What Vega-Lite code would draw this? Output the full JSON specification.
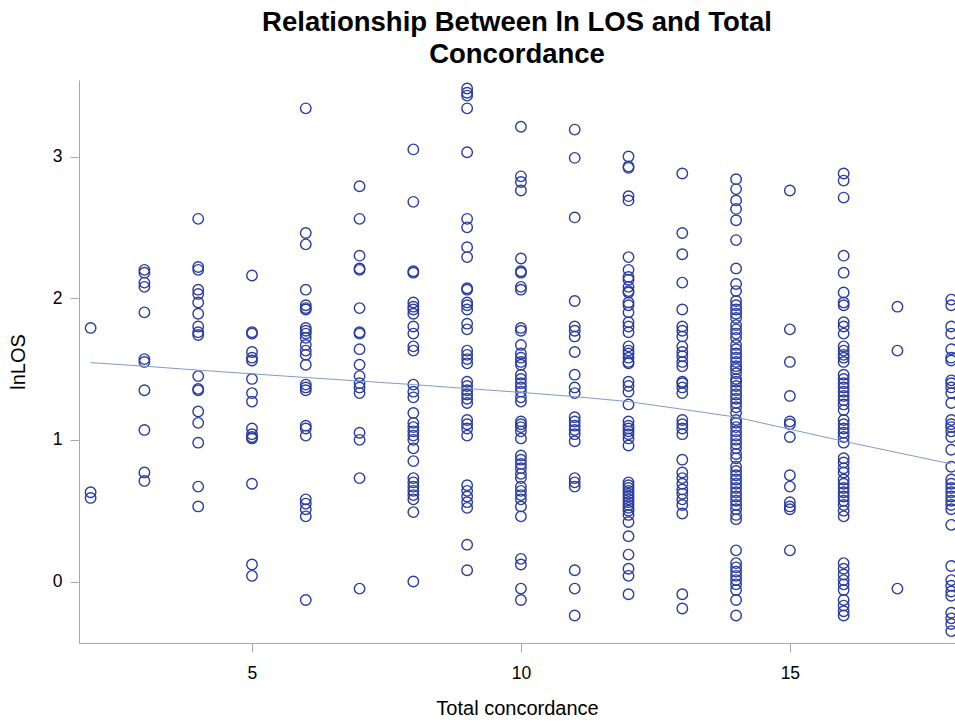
{
"$schema": "https://vega.github.io/schema/vega-lite/v6.json",
"width": 876, "height": 563,
"autosize": {"type": "none"},
"padding": {"left": 79, "top": 80, "right": 0, "bottom": 79},
"background": "white",
"title": {"text": ["Relationship Between ln LOS and Total", "Concordance"], "fontSize": 27.5, "fontWeight": "bold", "font": "Liberation Sans", "color": "black", "lineHeight": 32, "offset": 12, "anchor": "middle"},
"config": {"view": {"stroke": null}, "axis": {"grid": false, "domainColor": "#a8a8a8", "tickColor": "#a8a8a8", "labelFont": "Liberation Sans", "titleFont": "Liberation Sans", "labelFontSize": 17.5, "titleFontSize": 20, "labelColor": "black", "titleColor": "black", "titleFontWeight": "normal", "tickSize": 9}},
"datasets": {
"pts": [
{"x":2,"y":1.79},{"x":2,"y":0.63},{"x":2,"y":0.59},
{"x":3,"y":2.20},{"x":3,"y":2.18},{"x":3,"y":2.11},{"x":3,"y":2.08},{"x":3,"y":1.90},{"x":3,"y":1.57},{"x":3,"y":1.55},{"x":3,"y":1.35},{"x":3,"y":1.07},{"x":3,"y":0.77},{"x":3,"y":0.71},
{"x":4,"y":2.56},{"x":4,"y":2.22},{"x":4,"y":2.20},{"x":4,"y":2.06},{"x":4,"y":2.03},{"x":4,"y":1.97},{"x":4,"y":1.89},{"x":4,"y":1.80},{"x":4,"y":1.76},{"x":4,"y":1.74},{"x":4,"y":1.45},{"x":4,"y":1.36},{"x":4,"y":1.35},{"x":4,"y":1.20},{"x":4,"y":1.12},{"x":4,"y":0.98},{"x":4,"y":0.67},{"x":4,"y":0.53},
{"x":5,"y":2.16},{"x":5,"y":1.76},{"x":5,"y":1.75},{"x":5,"y":1.62},{"x":5,"y":1.58},{"x":5,"y":1.56},{"x":5,"y":1.43},{"x":5,"y":1.33},{"x":5,"y":1.27},{"x":5,"y":1.08},{"x":5,"y":1.04},{"x":5,"y":1.02},{"x":5,"y":1.01},{"x":5,"y":0.69},{"x":5,"y":0.12},{"x":5,"y":0.04},
{"x":6,"y":3.34},{"x":6,"y":2.46},{"x":6,"y":2.38},{"x":6,"y":2.06},{"x":6,"y":1.95},{"x":6,"y":1.93},{"x":6,"y":1.92},{"x":6,"y":1.79},{"x":6,"y":1.77},{"x":6,"y":1.75},{"x":6,"y":1.72},{"x":6,"y":1.67},{"x":6,"y":1.63},{"x":6,"y":1.60},{"x":6,"y":1.53},{"x":6,"y":1.39},{"x":6,"y":1.37},{"x":6,"y":1.35},{"x":6,"y":1.10},{"x":6,"y":1.08},{"x":6,"y":1.03},{"x":6,"y":0.58},{"x":6,"y":0.55},{"x":6,"y":0.51},{"x":6,"y":0.46},{"x":6,"y":-0.13},
{"x":7,"y":2.79},{"x":7,"y":2.56},{"x":7,"y":2.30},{"x":7,"y":2.21},{"x":7,"y":2.20},{"x":7,"y":1.93},{"x":7,"y":1.76},{"x":7,"y":1.75},{"x":7,"y":1.64},{"x":7,"y":1.53},{"x":7,"y":1.45},{"x":7,"y":1.40},{"x":7,"y":1.37},{"x":7,"y":1.33},{"x":7,"y":1.05},{"x":7,"y":1.00},{"x":7,"y":0.73},{"x":7,"y":-0.05},
{"x":8,"y":3.05},{"x":8,"y":2.68},{"x":8,"y":2.19},{"x":8,"y":2.18},{"x":8,"y":1.97},{"x":8,"y":1.94},{"x":8,"y":1.92},{"x":8,"y":1.89},{"x":8,"y":1.80},{"x":8,"y":1.75},{"x":8,"y":1.66},{"x":8,"y":1.63},{"x":8,"y":1.39},{"x":8,"y":1.34},{"x":8,"y":1.30},{"x":8,"y":1.19},{"x":8,"y":1.12},{"x":8,"y":1.09},{"x":8,"y":1.06},{"x":8,"y":1.03},{"x":8,"y":1.00},{"x":8,"y":0.94},{"x":8,"y":0.85},{"x":8,"y":0.73},{"x":8,"y":0.70},{"x":8,"y":0.67},{"x":8,"y":0.64},{"x":8,"y":0.61},{"x":8,"y":0.58},{"x":8,"y":0.49},{"x":8,"y":0.00},
{"x":9,"y":3.48},{"x":9,"y":3.45},{"x":9,"y":3.43},{"x":9,"y":3.34},{"x":9,"y":3.03},{"x":9,"y":2.56},{"x":9,"y":2.50},{"x":9,"y":2.36},{"x":9,"y":2.29},{"x":9,"y":2.07},{"x":9,"y":2.06},{"x":9,"y":1.97},{"x":9,"y":1.95},{"x":9,"y":1.92},{"x":9,"y":1.82},{"x":9,"y":1.78},{"x":9,"y":1.63},{"x":9,"y":1.60},{"x":9,"y":1.57},{"x":9,"y":1.54},{"x":9,"y":1.41},{"x":9,"y":1.38},{"x":9,"y":1.35},{"x":9,"y":1.32},{"x":9,"y":1.29},{"x":9,"y":1.26},{"x":9,"y":1.14},{"x":9,"y":1.11},{"x":9,"y":1.08},{"x":9,"y":1.03},{"x":9,"y":0.68},{"x":9,"y":0.64},{"x":9,"y":0.60},{"x":9,"y":0.56},{"x":9,"y":0.52},{"x":9,"y":0.26},{"x":9,"y":0.08},
{"x":10,"y":3.21},{"x":10,"y":2.86},{"x":10,"y":2.82},{"x":10,"y":2.76},{"x":10,"y":2.28},{"x":10,"y":2.19},{"x":10,"y":2.18},{"x":10,"y":2.08},{"x":10,"y":2.06},{"x":10,"y":1.79},{"x":10,"y":1.77},{"x":10,"y":1.67},{"x":10,"y":1.61},{"x":10,"y":1.58},{"x":10,"y":1.55},{"x":10,"y":1.53},{"x":10,"y":1.46},{"x":10,"y":1.43},{"x":10,"y":1.40},{"x":10,"y":1.37},{"x":10,"y":1.34},{"x":10,"y":1.30},{"x":10,"y":1.27},{"x":10,"y":1.13},{"x":10,"y":1.11},{"x":10,"y":1.09},{"x":10,"y":1.06},{"x":10,"y":1.01},{"x":10,"y":0.89},{"x":10,"y":0.86},{"x":10,"y":0.83},{"x":10,"y":0.80},{"x":10,"y":0.76},{"x":10,"y":0.73},{"x":10,"y":0.67},{"x":10,"y":0.64},{"x":10,"y":0.61},{"x":10,"y":0.58},{"x":10,"y":0.53},{"x":10,"y":0.46},{"x":10,"y":0.16},{"x":10,"y":0.12},{"x":10,"y":-0.05},{"x":10,"y":-0.13},
{"x":11,"y":3.19},{"x":11,"y":2.99},{"x":11,"y":2.57},{"x":11,"y":1.98},{"x":11,"y":1.80},{"x":11,"y":1.77},{"x":11,"y":1.73},{"x":11,"y":1.62},{"x":11,"y":1.46},{"x":11,"y":1.37},{"x":11,"y":1.33},{"x":11,"y":1.16},{"x":11,"y":1.13},{"x":11,"y":1.10},{"x":11,"y":1.07},{"x":11,"y":1.04},{"x":11,"y":0.99},{"x":11,"y":0.73},{"x":11,"y":0.70},{"x":11,"y":0.67},{"x":11,"y":0.08},{"x":11,"y":-0.05},{"x":11,"y":-0.24},
{"x":12,"y":3.00},{"x":12,"y":2.93},{"x":12,"y":2.92},{"x":12,"y":2.72},{"x":12,"y":2.69},{"x":12,"y":2.29},{"x":12,"y":2.20},{"x":12,"y":2.15},{"x":12,"y":2.13},{"x":12,"y":2.08},{"x":12,"y":2.05},{"x":12,"y":2.04},{"x":12,"y":1.97},{"x":12,"y":1.95},{"x":12,"y":1.90},{"x":12,"y":1.83},{"x":12,"y":1.80},{"x":12,"y":1.76},{"x":12,"y":1.66},{"x":12,"y":1.63},{"x":12,"y":1.61},{"x":12,"y":1.58},{"x":12,"y":1.55},{"x":12,"y":1.54},{"x":12,"y":1.41},{"x":12,"y":1.38},{"x":12,"y":1.34},{"x":12,"y":1.25},{"x":12,"y":1.13},{"x":12,"y":1.10},{"x":12,"y":1.08},{"x":12,"y":1.06},{"x":12,"y":1.04},{"x":12,"y":1.01},{"x":12,"y":0.96},{"x":12,"y":0.70},{"x":12,"y":0.68},{"x":12,"y":0.66},{"x":12,"y":0.64},{"x":12,"y":0.62},{"x":12,"y":0.60},{"x":12,"y":0.58},{"x":12,"y":0.56},{"x":12,"y":0.54},{"x":12,"y":0.52},{"x":12,"y":0.50},{"x":12,"y":0.47},{"x":12,"y":0.42},{"x":12,"y":0.32},{"x":12,"y":0.19},{"x":12,"y":0.09},{"x":12,"y":0.04},{"x":12,"y":-0.09},
{"x":13,"y":2.88},{"x":13,"y":2.46},{"x":13,"y":2.31},{"x":13,"y":2.11},{"x":13,"y":1.92},{"x":13,"y":1.80},{"x":13,"y":1.77},{"x":13,"y":1.73},{"x":13,"y":1.66},{"x":13,"y":1.62},{"x":13,"y":1.59},{"x":13,"y":1.55},{"x":13,"y":1.52},{"x":13,"y":1.41},{"x":13,"y":1.40},{"x":13,"y":1.37},{"x":13,"y":1.33},{"x":13,"y":1.14},{"x":13,"y":1.11},{"x":13,"y":1.08},{"x":13,"y":1.04},{"x":13,"y":0.86},{"x":13,"y":0.77},{"x":13,"y":0.73},{"x":13,"y":0.69},{"x":13,"y":0.65},{"x":13,"y":0.62},{"x":13,"y":0.58},{"x":13,"y":0.54},{"x":13,"y":0.48},{"x":13,"y":-0.09},{"x":13,"y":-0.19},
{"x":14,"y":2.84},{"x":14,"y":2.77},{"x":14,"y":2.69},{"x":14,"y":2.63},{"x":14,"y":2.55},{"x":14,"y":2.41},{"x":14,"y":2.21},{"x":14,"y":2.10},{"x":14,"y":2.05},{"x":14,"y":1.98},{"x":14,"y":1.95},{"x":14,"y":1.92},{"x":14,"y":1.89},{"x":14,"y":1.86},{"x":14,"y":1.81},{"x":14,"y":1.78},{"x":14,"y":1.75},{"x":14,"y":1.72},{"x":14,"y":1.67},{"x":14,"y":1.64},{"x":14,"y":1.61},{"x":14,"y":1.58},{"x":14,"y":1.55},{"x":14,"y":1.52},{"x":14,"y":1.50},{"x":14,"y":1.47},{"x":14,"y":1.43},{"x":14,"y":1.41},{"x":14,"y":1.38},{"x":14,"y":1.35},{"x":14,"y":1.32},{"x":14,"y":1.29},{"x":14,"y":1.26},{"x":14,"y":1.23},{"x":14,"y":1.19},{"x":14,"y":1.14},{"x":14,"y":1.12},{"x":14,"y":1.09},{"x":14,"y":1.06},{"x":14,"y":1.03},{"x":14,"y":1.00},{"x":14,"y":0.97},{"x":14,"y":0.94},{"x":14,"y":0.90},{"x":14,"y":0.87},{"x":14,"y":0.81},{"x":14,"y":0.78},{"x":14,"y":0.75},{"x":14,"y":0.72},{"x":14,"y":0.69},{"x":14,"y":0.66},{"x":14,"y":0.63},{"x":14,"y":0.60},{"x":14,"y":0.57},{"x":14,"y":0.54},{"x":14,"y":0.51},{"x":14,"y":0.47},{"x":14,"y":0.44},{"x":14,"y":0.22},{"x":14,"y":0.13},{"x":14,"y":0.10},{"x":14,"y":0.07},{"x":14,"y":0.04},{"x":14,"y":0.01},{"x":14,"y":-0.02},{"x":14,"y":-0.06},{"x":14,"y":-0.13},{"x":14,"y":-0.24},
{"x":15,"y":2.76},{"x":15,"y":1.78},{"x":15,"y":1.55},{"x":15,"y":1.31},{"x":15,"y":1.13},{"x":15,"y":1.11},{"x":15,"y":1.02},{"x":15,"y":0.75},{"x":15,"y":0.67},{"x":15,"y":0.56},{"x":15,"y":0.53},{"x":15,"y":0.51},{"x":15,"y":0.22},
{"x":16,"y":2.88},{"x":16,"y":2.83},{"x":16,"y":2.71},{"x":16,"y":2.30},{"x":16,"y":2.18},{"x":16,"y":2.04},{"x":16,"y":1.97},{"x":16,"y":1.95},{"x":16,"y":1.83},{"x":16,"y":1.80},{"x":16,"y":1.75},{"x":16,"y":1.66},{"x":16,"y":1.63},{"x":16,"y":1.60},{"x":16,"y":1.58},{"x":16,"y":1.55},{"x":16,"y":1.46},{"x":16,"y":1.43},{"x":16,"y":1.40},{"x":16,"y":1.37},{"x":16,"y":1.34},{"x":16,"y":1.31},{"x":16,"y":1.28},{"x":16,"y":1.25},{"x":16,"y":1.21},{"x":16,"y":1.14},{"x":16,"y":1.11},{"x":16,"y":1.08},{"x":16,"y":1.05},{"x":16,"y":1.02},{"x":16,"y":0.98},{"x":16,"y":0.87},{"x":16,"y":0.84},{"x":16,"y":0.80},{"x":16,"y":0.77},{"x":16,"y":0.72},{"x":16,"y":0.69},{"x":16,"y":0.66},{"x":16,"y":0.63},{"x":16,"y":0.60},{"x":16,"y":0.57},{"x":16,"y":0.54},{"x":16,"y":0.50},{"x":16,"y":0.46},{"x":16,"y":0.13},{"x":16,"y":0.09},{"x":16,"y":0.05},{"x":16,"y":0.01},{"x":16,"y":-0.02},{"x":16,"y":-0.06},{"x":16,"y":-0.13},{"x":16,"y":-0.17},{"x":16,"y":-0.21},{"x":16,"y":-0.24},
{"x":17,"y":1.94},{"x":17,"y":1.63},{"x":17,"y":-0.05},
{"x":18,"y":1.99},{"x":18,"y":1.95},{"x":18,"y":1.80},{"x":18,"y":1.75},{"x":18,"y":1.64},{"x":18,"y":1.58},{"x":18,"y":1.56},{"x":18,"y":1.42},{"x":18,"y":1.40},{"x":18,"y":1.37},{"x":18,"y":1.33},{"x":18,"y":1.26},{"x":18,"y":1.14},{"x":18,"y":1.11},{"x":18,"y":1.09},{"x":18,"y":1.06},{"x":18,"y":1.02},{"x":18,"y":0.93},{"x":18,"y":0.81},{"x":18,"y":0.72},{"x":18,"y":0.69},{"x":18,"y":0.66},{"x":18,"y":0.63},{"x":18,"y":0.60},{"x":18,"y":0.57},{"x":18,"y":0.54},{"x":18,"y":0.51},{"x":18,"y":0.40},{"x":18,"y":0.11},{"x":18,"y":0.01},{"x":18,"y":-0.03},{"x":18,"y":-0.07},{"x":18,"y":-0.10},{"x":18,"y":-0.22},{"x":18,"y":-0.26},{"x":18,"y":-0.30},{"x":18,"y":-0.35}
],
"fit": [
{"x":2,"fit":1.545},{"x":3,"fit":1.52},{"x":4,"fit":1.492},{"x":5,"fit":1.466},{"x":6,"fit":1.44},{"x":7,"fit":1.415},{"x":8,"fit":1.39},{"x":9,"fit":1.362},{"x":10,"fit":1.335},{"x":11,"fit":1.305},{"x":12,"fit":1.27},{"x":13,"fit":1.216},{"x":14,"fit":1.16},{"x":15,"fit":1.075},{"x":16,"fit":0.99},{"x":17,"fit":0.91},{"x":18,"fit":0.83}
]
},
"layer": [
{"data": {"name": "pts"},
 "mark": {"type": "point", "shape": "circle", "filled": false, "size": 110, "strokeWidth": 1.4, "color": "#2A3C9F", "opacity": 1},
 "encoding": {
  "x": {"field": "x", "type": "quantitative", "scale": {"domain": [1.784, 18.07], "nice": false, "zero": false},
        "axis": {"values": [5, 10, 15], "format": "d", "title": "Total concordance", "labelPadding": 12, "titlePadding": 17}},
  "y": {"field": "y", "type": "quantitative", "scale": {"domain": [-0.434, 3.54], "nice": false, "zero": false},
        "axis": {"values": [0, 1, 2, 3], "format": "d", "title": "lnLOS", "labelPadding": 8, "titlePadding": 24}}
 }},
{"data": {"name": "fit"},
 "mark": {"type": "line", "color": "#7F9CC6", "strokeWidth": 1},
 "encoding": {
  "x": {"field": "x", "type": "quantitative"},
  "y": {"field": "fit", "type": "quantitative"}
 }},
{"mark": {"type": "rule", "color": "#a8a8a8", "strokeWidth": 1},
 "encoding": {"y": {"datum": 3.54}}}
]
}
